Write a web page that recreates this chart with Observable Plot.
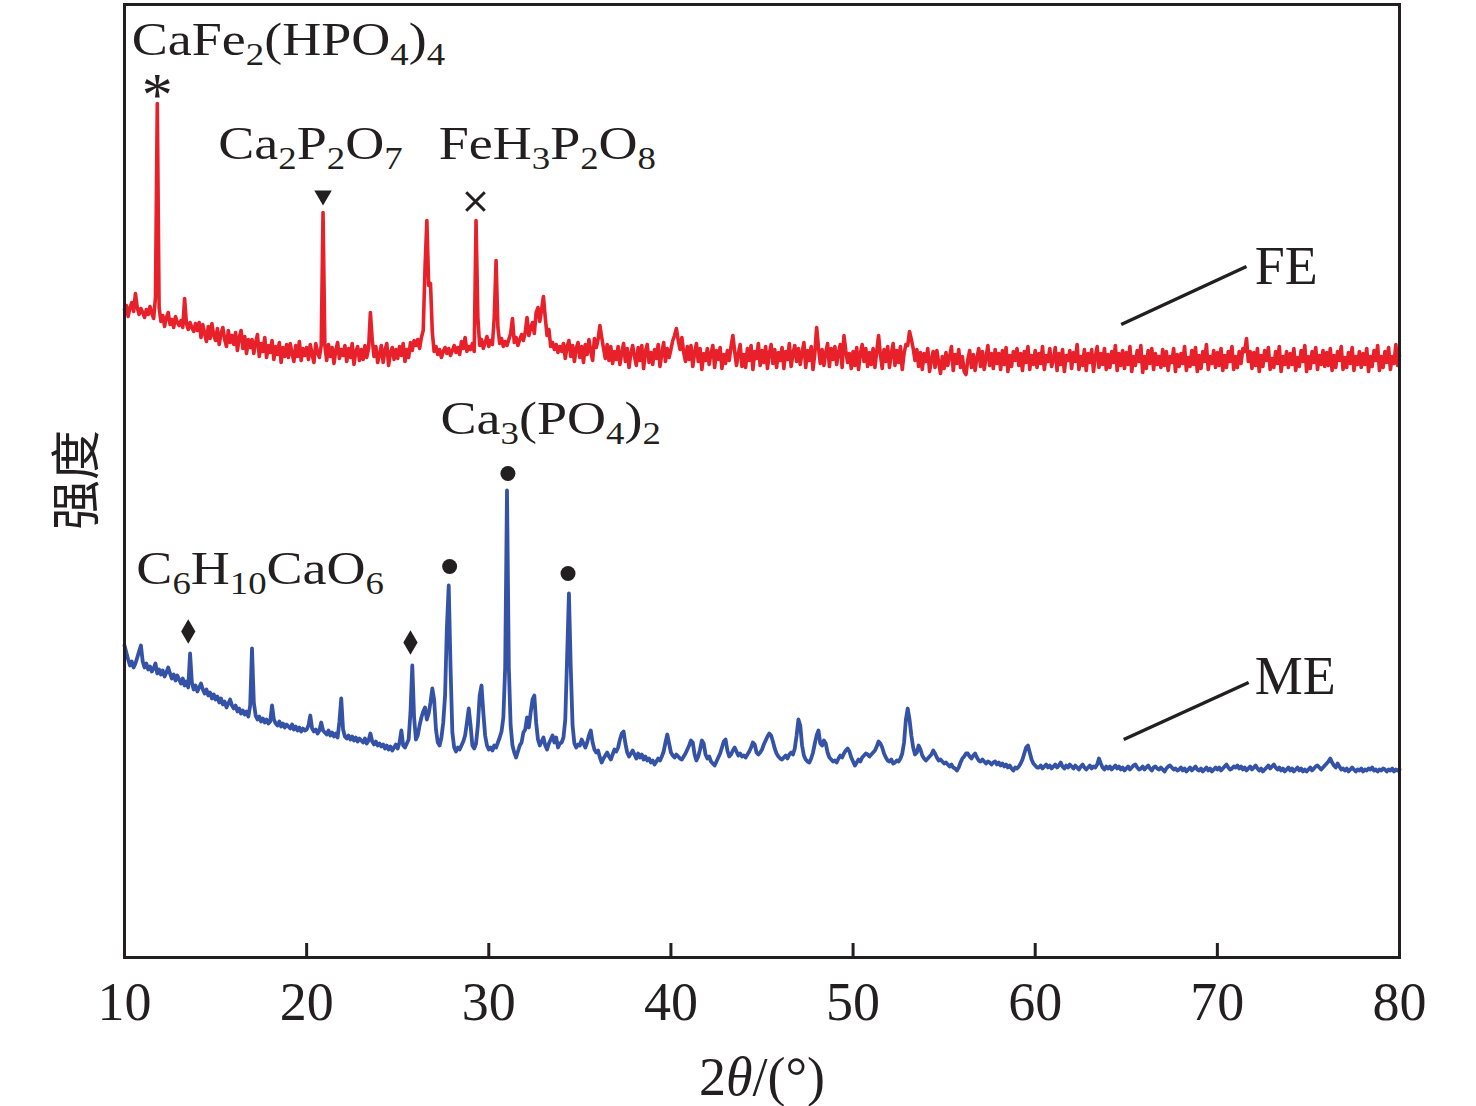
<!DOCTYPE html>
<html><head><meta charset="utf-8">
<script src="https://cdn.jsdelivr.net/npm/d3@7"></script>
<script src="https://cdn.jsdelivr.net/npm/@observablehq/plot@0.6"></script>
<style>body{margin:0;background:#fff;}</style>
</head><body><div id="chart"></div>
<script>
// 2θ grid: each row is one degree, sampled every 0.1°
const thetaStart = 10, thetaStep = 0.1;
const xTicks = [10, 20, 30, 40, 50, 60, 70, 80];

// FE trace (red), intensity in arbitrary units
const feRows = [
[648,652,641,650,655,646,664,650,643,649],
[645,640,648,643,651,644,639,660,854,650],
[636,642,631,640,645,633,638,630,641,635],
[632,637,630,659,634,628,635,630,626,634],
[627,635,620,633,624,616,631,619,634,622],
[617,629,613,624,630,618,611,627,615,622],
[613,625,607,620,627,609,621,604,618,610],
[618,604,615,623,601,614,606,620,600,612],
[605,617,598,611,603,615,595,610,601,613],
[600,614,604,596,612,601,616,597,609,602],
[610,598,613,603,595,614,605,600,612,745],
[612,597,613,601,610,594,607,615,599,608],
[602,612,596,609,600,614,593,606,611,597],
[608,598,612,600,609,645,618,601,611,595],
[603,612,595,607,614,592,605,610,598,608],
[599,611,602,614,596,608,600,615,607,617],
[612,618,609,620,627,690,737,672,674,625],
[606,611,603,608,600,606,610,604,609,602],
[607,612,605,610,603,616,609,620,606,611],
[608,614,606,737,640,612,618,609,615,621],
[611,617,613,640,697,630,614,619,611,616],
[612,618,624,639,615,620,612,618,623,617],
[625,640,622,630,635,624,645,650,636,648],
[661,640,622,628,611,615,608,613,605,611],
[606,614,599,611,617,601,612,596,609,615],
[600,611,595,613,603,618,606,597,619,610],
[618,632,620,609,599,613,597,611,594,606],
[598,611,593,605,614,596,609,590,604,612],
[601,592,610,597,612,589,606,613,595,605],
[593,608,599,613,591,604,615,596,609,600],
[608,617,622,629,617,608,620,605,596,611],
[598,612,591,605,614,596,609,588,604,597],
[609,593,604,612,590,607,598,610,589,603],
[594,607,597,611,622,606,592,604,613,591],
[603,590,609,597,612,588,606,599,614,592],
[607,595,611,589,604,613,594,608,590,605],
[597,610,589,606,598,614,591,604,612,596],
[609,593,605,615,590,607,597,611,588,604],
[630,610,594,608,592,605,614,591,609,598],
[611,593,605,613,590,622,607,595,604,589],
[606,592,610,588,604,613,596,609,591,605],
[593,609,590,606,622,603,589,608,596,611],
[590,604,614,592,607,595,611,588,604,613],
[612,626,618,609,597,608,591,605,588,604],
[596,609,586,598,606,590,607,595,584,601],
[589,605,592,601,611,587,603,594,608,590],
[601,586,583,598,607,590,603,587,600,609],
[591,606,588,600,612,592,604,589,608,594],
[604,588,607,593,610,586,602,591,606,597],
[609,592,604,587,606,595,611,588,602,593],
[607,590,604,594,611,588,602,596,609,591],
[598,610,587,604,593,608,586,602,597,607],
[589,605,596,613,588,601,592,608,587,604],
[595,608,586,601,611,590,604,593,609,588],
[603,590,606,595,612,587,604,592,607,589],
[605,593,611,586,601,592,607,596,612,585],
[601,589,607,594,609,588,604,593,601,590],
[608,592,606,587,601,595,609,586,603,591],
[604,594,611,587,600,591,607,593,610,586],
[602,589,606,596,613,588,601,594,607,590],
[605,592,609,587,602,590,606,596,611,588],
[601,590,606,594,609,606,619,596,606,589],
[605,592,609,586,602,591,607,597,610,588],
[599,590,606,594,611,586,601,593,606,590],
[604,593,609,587,600,591,607,596,612,586],
[601,589,606,595,610,588,602,593,607,591],
[605,592,609,587,602,590,606,597,611,588],
[600,590,605,594,610,587,601,593,606,590],
[604,593,609,586,601,591,607,597,612,587],
[601,590,606,595,610,588,601,594,613,592],
[602]
];

// ME trace (blue)
const meRows = [
[312,305,298,292,296,290,294,300,306,312],
[296,290,294,288,291,286,289,294,284,288],
[283,287,281,285,290,284,279,283,277,282],
[278,274,279,272,276,270,304,275,268,272],
[266,270,274,268,264,268,262,265,259,263],
[258,261,255,259,253,256,250,254,258,252],
[249,252,246,249,244,247,243,246,241,252],
[309,255,242,238,241,236,239,235,238,234],
[236,252,238,234,232,236,231,234,230,233],
[231,229,233,228,231,227,230,226,229,227],
[228,232,242,229,226,228,224,227,235,227],
[225,223,227,222,225,221,224,220,236,259],
[228,221,219,222,218,221,217,220,216,219],
[217,215,219,214,217,224,216,213,216,212],
[214,211,213,209,212,208,211,207,210,213],
[209,215,227,212,210,214,218,245,292,240],
[218,222,232,240,246,250,238,244,255,269],
[258,228,215,212,220,235,262,330,372,290],
[225,210,206,210,208,212,216,222,235,249],
[232,212,209,214,232,262,272,245,222,212],
[208,210,207,212,210,215,220,226,240,290],
[467,290,232,212,205,200,206,212,215,225],
[228,240,230,245,258,262,235,218,212,216],
[220,212,208,214,218,222,215,220,210,214],
[215,220,238,300,364,290,232,214,210,213],
[212,218,214,210,215,222,227,215,208,205],
[207,200,195,199,202,205,201,198,203,208],
[206,210,218,224,226,214,205,201,204,207],
[203,199,204,200,203,198,201,197,199,195],
[197,193,196,199,197,201,206,215,223,214],
[205,202,200,203,201,199,198,201,204,208],
[212,217,215,203,197,201,208,217,214,203],
[199,201,196,194,192,196,200,204,210,216],
[218,207,201,203,207,210,206,202,204,201],
[202,200,203,206,210,215,213,205,203,205],
[208,213,217,221,224,222,216,209,204,201],
[199,198,200,202,199,203,205,203,209,222],
[238,232,212,202,198,196,195,199,205,214],
[222,227,214,212,217,214,205,200,198,196],
[197,195,199,202,200,204,207,209,206,200],
[196,192,195,198,196,200,202,204,203,201],
[203,205,207,211,216,214,210,204,200,197],
[196,198,194,195,197,196,199,204,215,238],
[249,238,222,210,203,205,212,208,202,199],
[197,199,201,203,207,204,200,197,198,196],
[194,195,193,191,193,190,189,187,190,195],
[199,201,204,204,201,199,202,204,200,197],
[196,198,196,194,196,195,193,195,196,193],
[195,192,194,191,193,190,192,189,187,190],
[189,191,194,198,204,210,212,205,198,194],
[192,190,190,192,189,191,193,190,192,189],
[191,193,190,192,195,191,189,192,190,193],
[191,189,192,190,188,191,193,190,188,190],
[192,189,191,190,193,199,194,190,188,191],
[189,191,188,190,192,189,191,188,190,187],
[189,191,188,190,192,193,190,188,189,191],
[188,190,192,189,187,190,191,189,188,190],
[188,186,189,191,192,190,188,189,187,188],
[190,187,189,186,188,190,187,189,191,188],
[187,189,186,188,190,187,189,186,188,190],
[188,190,187,189,191,193,190,188,189,191],
[190,192,189,191,188,190,187,189,191,188],
[190,192,189,187,189,186,188,190,192,189],
[191,193,190,188,190,187,189,186,188,190],
[187,189,186,188,190,187,189,186,188,186],
[188,190,187,189,191,192,190,188,190,192],
[194,196,199,195,192,190,194,191,188,189],
[187,189,186,188,190,188,186,188,187,189],
[186,188,187,189,188,190,187,188,186,188],
[187,189,188,186,188,187,189,186,188,187],
[188]
];

// phase annotations (text uses _n for subscripts)
const phaseLabels = ["CaFe_2(HPO_4)_4", "Ca_2P_2O_7", "FeH_3P_2O_8", "Ca_3(PO_4)_2", "C_6H_10CaO_6"];
const phaseTheta = [10.4, 15.15, 27.25, 27.35, 10.65];
const phaseI = [903, 799, 799, 524, 374];

// peak markers
const starTheta = [11.8], starI = [876];
const triTheta = [20.9], triI = [762];
const crossTheta = [29.27], crossI = [756];
const dotTheta = [27.85, 31.05, 34.35], dotI = [391, 484, 384];
const diaTheta = [13.5, 25.7], diaI = [326, 315];

// series labels with leader lines
const seriesNames = ["FE", "ME"];
const seriesLabelTheta = [72.05, 72.05];
const seriesLabelI = [674, 264];
const leaderTheta1 = [64.72, 64.86], leaderI1 = [633, 218];
const leaderTheta2 = [71.6, 71.72], leaderI2 = [691, 275];

const ink = "#231f20";
const red = "#e8202a";
const blue = "#3553a6";

const toData = rows => rows.flatMap((row, r) => row.map((v, j) => ({theta: thetaStart + r + j * thetaStep, I: v})));
const feData = toData(feRows);
const meData = toData(meRows);
const pts = (xs, ys) => xs.map((x, i) => ({x, y: ys[i]}));

const chart = Plot.plot({
  width: 1476, height: 1106,
  marginLeft: 124, marginRight: 77, marginTop: 4, marginBottom: 149,
  x: {domain: [10, 80]},
  y: {domain: [0, 953], axis: null},
  style: {fontFamily: "'Liberation Serif','Times New Roman',serif", fontSize: "54px", color: ink, background: "#fff", overflow: "visible"},
  marks: [
    Plot.line(feData, {x: "theta", y: "I", stroke: red, strokeWidth: 3.6, strokeLinejoin: "round"}),
    Plot.line(meData, {x: "theta", y: "I", stroke: blue, strokeWidth: 3.8, strokeLinejoin: "round"}),
    Plot.frame({stroke: ink, strokeWidth: 3}),
    Plot.ruleX(xTicks, {x: d => d, stroke: ink, strokeWidth: 3, insetTop: 939}),
    Plot.axisX({ticks: xTicks, tickSize: 0, tickPadding: 24, fontSize: 54, label: null, tickFormat: d => String(d)}),
    Plot.text(["2θ/(°)"], {frameAnchor: "bottom", dy: 137, lineAnchor: "bottom", fontSize: 54, fill: ink, ariaDescription: "xlabel"}),
    Plot.text(["强度"], {frameAnchor: "left", dx: -47, dy: 49, rotate: -90, fontSize: 50, fill: ink, fontFamily: "'Noto Sans CJK SC',sans-serif"}),
    Plot.text(phaseLabels.map((t, i) => ({t, x: phaseTheta[i], y: phaseI[i]})), {x: "x", y: "y", text: "t", textAnchor: "start", lineAnchor: "bottom", fontSize: 47, fill: ink, ariaDescription: "formula"}),
    Plot.text(pts(starTheta, starI), {x: "x", y: "y", text: () => "*", fontSize: 62, fill: ink, dy: 14}),
    Plot.dot(pts(triTheta, triI), {x: "x", y: "y", symbol: "triangle", rotate: 180, r: 6.5, fill: ink, stroke: null}),
    Plot.dot(pts(crossTheta, crossI), {x: "x", y: "y", symbol: "times", r: 8.5, stroke: ink, strokeWidth: 3, fill: "none"}),
    Plot.dot(pts(dotTheta, dotI), {x: "x", y: "y", r: 7.5, fill: ink, stroke: null}),
    Plot.dot(pts(diaTheta, diaI), {x: "x", y: "y", symbol: "diamond", r: 7.5, fill: ink, stroke: null}),
    Plot.link(leaderTheta1.map((x, i) => ({x1: x, y1: leaderI1[i], x2: leaderTheta2[i], y2: leaderI2[i]})), {x1: "x1", y1: "y1", x2: "x2", y2: "y2", stroke: ink, strokeWidth: 3.5}),
    Plot.text(seriesNames.map((t, i) => ({t, x: seriesLabelTheta[i], y: seriesLabelI[i]})), {x: "x", y: "y", text: "t", textAnchor: "start", lineAnchor: "bottom", fontSize: 54, fill: ink})
  ]
});

// subscripts for chemical formulas
const NS = "http://www.w3.org/2000/svg";
chart.querySelectorAll('g[aria-description="formula"] text').forEach(el => {
  const s = el.textContent;
  el.textContent = "";
  const parts = s.split(/_(\d+)/);
  let shifted = false;
  parts.forEach((p, i) => {
    if (!p) return;
    const ts = document.createElementNS(NS, "tspan");
    ts.textContent = p;
    if (i % 2 === 1) {
      ts.setAttribute("font-size", "32");
      if (!shifted) { ts.setAttribute("dy", "10"); shifted = true; }
    } else if (shifted) {
      ts.setAttribute("dy", "-10"); shifted = false;
    }
    el.appendChild(ts);
  });
  const x = +el.getAttribute("x") || 0, y = +el.getAttribute("y") || 0;
  const tr = el.getAttribute("transform") || "";
  el.removeAttribute("x"); el.removeAttribute("y");
  el.setAttribute("transform", `${tr} translate(${x},${y}) scale(1.15,1)`);
});
chart.querySelectorAll('g[aria-description="xlabel"] text').forEach(el => {
  el.textContent = "";
  [["2", false], ["θ", true], ["/(°)", false]].forEach(([t, it]) => {
    const ts = document.createElementNS(NS, "tspan");
    ts.textContent = t;
    if (it) ts.setAttribute("font-style", "italic");
    el.appendChild(ts);
  });
});
document.getElementById("chart").appendChild(chart);
</script></body></html>
